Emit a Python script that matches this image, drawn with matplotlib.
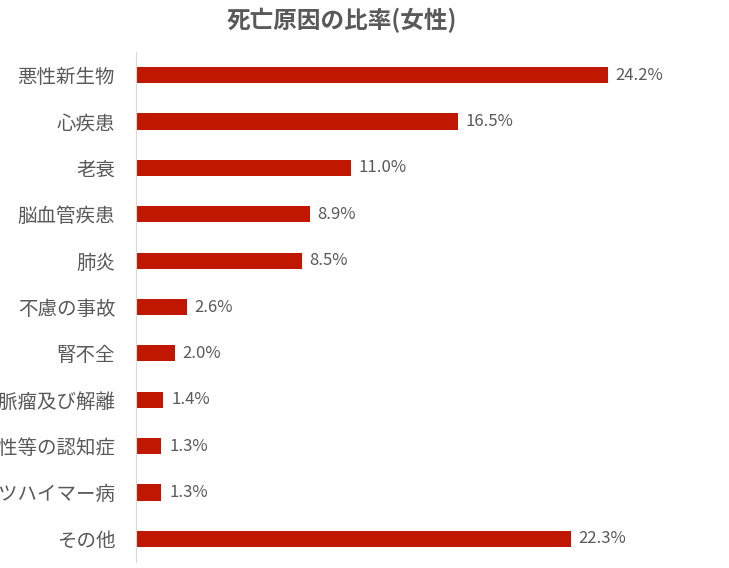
import matplotlib
matplotlib.use('Agg')
import matplotlib.pyplot as plt
import numpy as np

plt.rcParams['font.family'] = ['Noto Sans CJK JP', 'DejaVu Sans']

causes = ['悪性新生物', '心疾患', '老衰', '脳血管疾患', '肺炎', '不慮の事故', '腎不全',
          '大動脈瘤及び解離', '血管性等の認知症', 'アルツハイマー病', 'その他']
ratios = [24.2, 16.5, 11.0, 8.9, 8.5, 2.6, 2.0, 1.4, 1.3, 1.3, 22.3]

fig = plt.figure(figsize=(7.29, 5.68), dpi=100)
ax = fig.add_axes([136/729, 6/568, 585/729, 510/568])

y = np.arange(len(causes))
ax.barh(y, ratios, height=0.35, color='#C01800')
for yi, v in zip(y, ratios):
    ax.text(v + 0.4, yi, '{:.1f}%'.format(v), va='center', ha='left',
            fontsize=12, color='#595959')

ax.set_ylim(len(causes) - 0.5, -0.5)
ax.set_xlim(0, 30)
ax.set_yticks(y)
ax.set_yticklabels(causes, fontsize=14, color='#595959')
ax.tick_params(axis='y', length=0, pad=15)
ax.set_xticks([])
for s in ['top', 'right', 'bottom']:
    ax.spines[s].set_visible(False)
ax.spines['left'].set_color('#D9D9D9')

fig.text(342/729, 1 - 20/568, '死亡原因の比率(女性)', ha='center', va='center',
         fontsize=17, fontweight='bold', color='#595959')

fig.savefig('out.png', dpi=100)
